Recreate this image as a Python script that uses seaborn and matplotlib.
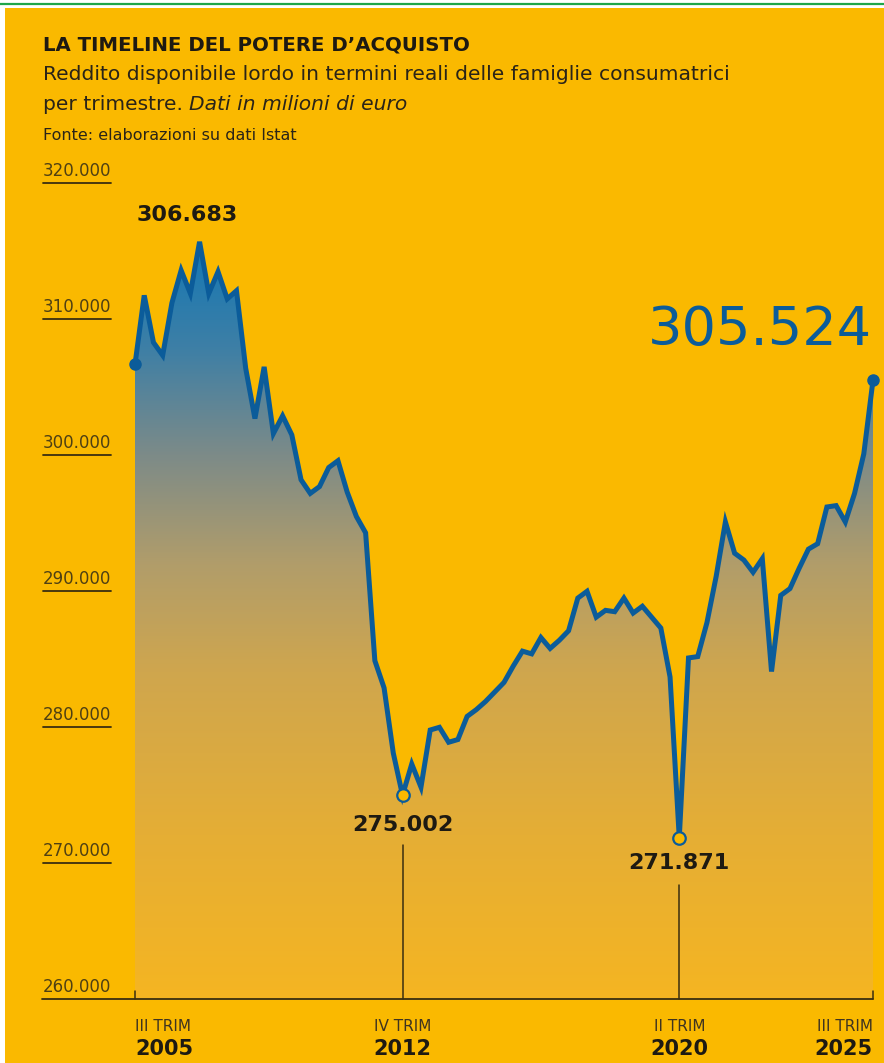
import numpy as np
import pandas as pd
import seaborn as sns
import matplotlib.pyplot as plt
from matplotlib.colors import LinearSegmentedColormap
from matplotlib.patches import Rectangle
from matplotlib.lines import Line2D

# Reddito disponibile lordo reale, milioni di euro, dal III trim 2005 al III trim 2025
reddito = [
    306683, 311760, 308300, 307350, 311200, 313600, 311900, 315700, 311900, 313500,
    311500, 312100, 306400, 302700, 306500, 301600, 302900, 301500, 298200, 297200,
    297700, 299100, 299600, 297300, 295500, 294300, 284900, 282900, 278100, 275002,
    277300, 275600, 279800, 280000, 278900, 279100, 280800, 281300, 281900, 282600,
    283300, 284500, 285600, 285400, 286600, 285800, 286400, 287100, 289500, 290000,
    288100, 288600, 288500, 289500, 288400, 288900, 288100, 287300, 283700, 271871,
    285100, 285200, 287700, 291100, 295100, 292800, 292300, 291400, 292400, 284100,
    289700, 290200, 291700, 293100, 293500, 296200, 296300, 295100, 297200, 300100,
    305524,
]
y_ticks = [260000, 270000, 280000, 290000, 300000, 310000, 320000]
x_pos = [0, 29, 59, 80]
x_trim = ["III TRIM", "IV TRIM", "II TRIM", "III TRIM"]
x_anni = ["2005", "2012", "2020", "2025"]

YELLOW = "#FAB900"
BLUE = "#0B5C9A"
DARK = "#1E1A12"
TICK = "#3A2E10"

df = pd.DataFrame({"q": np.arange(len(reddito)), "val": reddito})

W, H = 884, 1063
PX_Q = (873 - 135) / 80          # pixel per trimestre
PX_V = 13.6 / 1000               # pixel per milione
Y0_PX = 999.3                    # pixel del 260.000

def px_x(p):
    return (p - 135) / PX_Q

def px_y(p):
    return 260000 + (Y0_PX - p) / PX_V

sns.set_style("white")
plt.rcParams["font.family"] = ["DejaVu Sans"]

fig = plt.figure(figsize=(W / 100, H / 100), dpi=100)
fig.patch.set_facecolor("white")
fig.add_artist(Rectangle((5 / W, 0), 1, (H - 8) / H, transform=fig.transFigure,
                         facecolor=YELLOW, edgecolor="none", zorder=-5))
fig.add_artist(Line2D([0, 1], [1 - 3.8 / H] * 2, transform=fig.transFigure,
                      color="#1FA64A", lw=1.6, zorder=-4))

ax = fig.add_axes([0, 0, 1, 1])
ax.set_facecolor("none")
ax.set_xlim(px_x(0), px_x(W))
ax.set_ylim(px_y(H), px_y(0))
ax.axis("off")

# gradiente sotto la curva
cmap = LinearSegmentedColormap.from_list("grad", [
    (0.0, "#F5B522"), (0.214, "#E5AE35"), (0.43, "#CFA64E"), (0.571, "#B19D6A"),
    (0.714, "#7D8B88"), (0.857, "#3D7FA6"), (1.0, "#1277B5")])
grad = np.linspace(0, 1, 256).reshape(-1, 1)
im = ax.imshow(grad, extent=[0, 80, 260000, 316000], origin="lower",
               aspect="auto", cmap=cmap, zorder=1)
poly = ax.fill_between(df["q"], df["val"], 260000, facecolor="none", edgecolor="none")
im.set_clip_path(poly.get_paths()[0], transform=ax.transData)

sns.lineplot(data=df, x="q", y="val", ax=ax, color=BLUE, lw=3.6, zorder=3,
             solid_joinstyle="miter", legend=False)

# punti evidenziati
ax.plot([0, 80], [reddito[0], reddito[80]], "o", color=BLUE, ms=8, zorder=4, clip_on=False)
ax.plot([29, 59], [reddito[29], reddito[59]], "o", mfc=YELLOW, mec=BLUE, mew=1.6,
        ms=9, zorder=4)

# asse y
for v in y_ticks:
    lab = f"{v:,}".replace(",", ".")
    ax.text(px_x(43), v + 12 / PX_V, lab, ha="left", va="center",
            fontsize=12, color="#4F4013")
    if v == 260000:
        ax.plot([px_x(42), 80], [v, v], color=TICK, lw=1.3, zorder=5, clip_on=False)
    else:
        ax.plot([px_x(43), px_x(111)], [v, v], color=TICK, lw=1.3, zorder=5)

# asse x
for p in (0, 80):
    ax.plot([p, p], [260000, 260000 + 8 / PX_V], color=TICK, lw=1.1, zorder=5,
            clip_on=False)
has = ["left", "center", "center", "right"]
for p, t, a, ha in zip(x_pos, x_trim, x_anni, has):
    ax.text(p, px_y(1027), t, ha=ha, va="center", fontsize=11, color="#3F3420")
    ax.text(p, px_y(1049), a, ha=ha, va="center", fontsize=15, color=DARK,
            fontweight="bold")

# linee verticali ai minimi
ax.plot([29, 29], [260000, px_y(845)], color=TICK, lw=1.1, zorder=5)
ax.plot([59, 59], [260000, px_y(885)], color=TICK, lw=1.1, zorder=5)

# etichette valori
ax.text(px_x(187), px_y(215), "306.683", ha="center", va="center", fontsize=16,
        fontweight="bold", color=DARK)
ax.text(29, px_y(825), "275.002", ha="center", va="center", fontsize=16,
        fontweight="bold", color=DARK)
ax.text(59, px_y(863), "271.871", ha="center", va="center", fontsize=16,
        fontweight="bold", color=DARK)
ax.text(px_x(872), px_y(330), "305.524", ha="right", va="center", fontsize=39,
        color=BLUE)

# titoli
fig.text(43 / W, 1 - 45 / H, "LA TIMELINE DEL POTERE D\u2019ACQUISTO", ha="left",
         va="center", fontsize=14.2, fontweight="bold", color=DARK)
fig.text(43 / W, 1 - 75 / H,
         "Reddito disponibile lordo in termini reali delle famiglie consumatrici",
         ha="left", va="center", fontsize=14.6, color="#2A2418")
t1 = fig.text(43 / W, 1 - 104 / H, "per trimestre. ", ha="left", va="center",
              fontsize=14.6, color="#2A2418")
fig.canvas.draw()
bb = t1.get_window_extent()
fig.text(bb.x1 / W, 1 - 104 / H, "Dati in milioni di euro", ha="left", va="center",
         fontsize=14.6, style="italic", color="#2A2418")
fig.text(43 / W, 1 - 136 / H, "Fonte: elaborazioni su dati Istat", ha="left",
         va="center", fontsize=11.5, color="#2A2418")

fig.savefig("out.png", dpi=100, facecolor=fig.get_facecolor())
